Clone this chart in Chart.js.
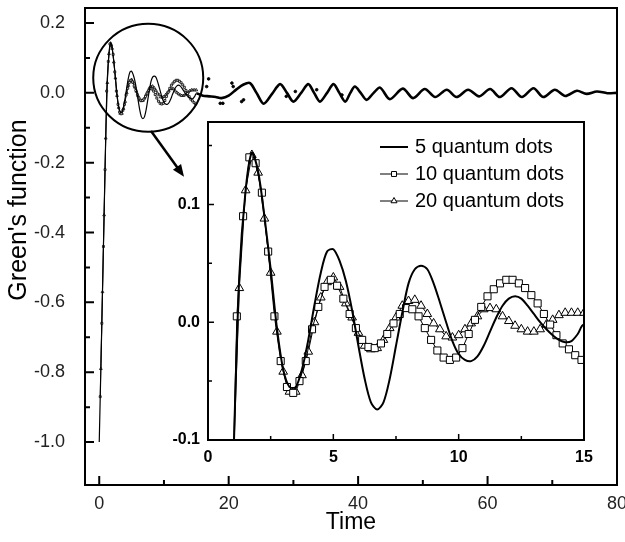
<!DOCTYPE html>
<html>
<head>
<meta charset="utf-8">
<script src="https://cdn.jsdelivr.net/npm/chart.js@4.4.0/dist/chart.umd.min.js"></script>
<style>
body { margin: 0; background: #fff; }
#wrap { position: relative; width: 625px; height: 542px; }
#main { position: absolute; left: 0; top: 0; }
#inset { position: absolute; left: 150px; top: 110px; }
</style>
</head>
<body>
<div id="wrap">
<canvas id="main" width="625" height="542"></canvas>
<canvas id="inset" width="470" height="365"></canvas>
</div>
<script>
// 5 quantum dots (solid line), whole run
const qd5T = [0, 0.25, 0.5, 0.75, 1.0, 1.25, 1.5, 1.75, 2.0, 2.25, 2.5, 2.75, 3.0, 3.25, 3.5, 3.75,
    4.0, 4.25, 4.5, 4.75, 5.0, 5.25, 5.5, 5.75, 6.0, 6.25, 6.5, 6.75, 7.0, 7.25, 7.5, 7.75,
    8.0, 8.25, 8.5, 8.75, 9.0, 9.25, 9.5, 9.75, 10.0, 10.25, 10.5, 10.75, 11.0, 11.25, 11.5, 11.75,
    12.0, 12.25, 12.5, 12.75, 13.0, 13.25, 13.5, 13.75, 14.0, 14.25, 14.5, 14.75, 15.0,
    16.0, 17.0, 18.0, 18.9, 20.0, 21.2, 22.3, 23.3, 24.3, 25.4, 26.7, 27.95, 29.0, 30.0, 31.2,
    32.3, 33.2, 34.1, 35.2, 36.2, 37.1, 38.0, 38.8, 39.5, 40.4, 41.3, 42.4, 43.4, 44.9, 46.9,
    48.5, 50.3, 51.9, 53.7, 55.2, 57.0, 58.7, 60.4, 61.9, 63.7, 65.3, 67.1, 68.6, 70.4, 72.0,
    73.8, 75.3, 76.9, 78.5, 80.0];
const qd5G = [-1.0, -0.79, -0.57, -0.35, -0.13, 0.04, 0.112, 0.144, 0.128, 0.09, 0.045, -0.005, -0.04, -0.055, -0.055, -0.04,
    -0.015, 0.015, 0.042, 0.06, 0.062, 0.052, 0.035, 0.01, -0.02, -0.048, -0.068, -0.074, -0.068, -0.048, -0.02, 0.008,
    0.033, 0.045, 0.048, 0.045, 0.033, 0.017, 0.0, -0.016, -0.027, -0.032, -0.033, -0.029, -0.02, -0.008, 0.004, 0.014,
    0.02, 0.022, 0.02, 0.014, 0.007, 0.0, -0.006, -0.011, -0.015, -0.017, -0.016, -0.01, -0.002,
    -0.008, -0.01, -0.012, -0.015, -0.008, 0.01, 0.024, 0.028, 0.0, -0.031, -0.003, 0.025, 0.0, -0.025, 0.0,
    0.025, 0.0, -0.025, 0.0, 0.025, 0.0, -0.025, 0.0, 0.018, 0.0, -0.02, 0.0, 0.015, -0.018, 0.012,
    -0.015, 0.011, -0.012, 0.009, -0.012, 0.009, -0.01, 0.011, -0.012, 0.013, -0.012, 0.013, -0.012, 0.009, -0.009,
    0.006, -0.003, 0.004, -0.001, 0.0];

// 10 quantum dots (squares)
const qd10T = [0.15, 0.4, 0.65, 0.9, 1.15, 1.4, 1.65, 1.9, 2.15, 2.4, 2.65, 2.9, 3.15, 3.4, 3.65, 3.9,
    4.15, 4.4, 4.65, 4.9, 5.15, 5.4, 5.65, 5.9, 6.15, 6.4, 6.65, 6.9, 7.15, 7.4, 7.65, 7.9,
    8.15, 8.4, 8.65, 8.9, 9.15, 9.4, 9.65, 9.9, 10.15, 10.4, 10.65, 10.9, 11.15, 11.4, 11.65, 11.9,
    12.15, 12.4, 12.65, 12.9, 13.15, 13.4, 13.65, 13.9, 14.15, 14.4, 14.65, 14.9];
const qd10G = [-0.87, -0.66, -0.44, -0.22, 0.005, 0.09, 0.14, 0.135, 0.11, 0.06, 0.005, -0.033, -0.055, -0.06, -0.05, -0.033,
    -0.006, 0.013, 0.03, 0.036, 0.031, 0.02, 0.007, -0.005, -0.015, -0.021, -0.022, -0.018, -0.01, -0.001, 0.007, 0.012,
    0.011, 0.005, -0.005, -0.015, -0.024, -0.03, -0.032, -0.03, -0.022, -0.01, 0.002, 0.013, 0.022, 0.028, 0.033, 0.036,
    0.036, 0.033, 0.029, 0.023, 0.016, 0.007, -0.002, -0.011, -0.018, -0.023, -0.028, -0.032];

// 20 quantum dots (triangles)
const qd20T = [0.25, 0.5, 0.75, 1.0, 1.25, 1.5, 1.75, 2.0, 2.25, 2.5, 2.75, 3.0, 3.25, 3.5, 3.75,
    4.0, 4.25, 4.5, 4.75, 5.0, 5.25, 5.5, 5.75, 6.0, 6.25, 6.5, 6.75, 7.0, 7.25, 7.5, 7.75,
    8.0, 8.25, 8.5, 8.75, 9.0, 9.25, 9.5, 9.75, 10.0, 10.25, 10.5, 10.75, 11.0, 11.25, 11.5, 11.75,
    12.0, 12.25, 12.5, 12.75, 13.0, 13.25, 13.5, 13.75, 14.0, 14.25, 14.5, 14.75, 15.0];
const qd20G = [-0.79, -0.57, -0.35, -0.13, 0.029, 0.112, 0.142, 0.127, 0.088, 0.042, -0.008, -0.042, -0.059, -0.059, -0.045,
    -0.025, 0.0, 0.021, 0.034, 0.038, 0.03, 0.016, 0.004, -0.009, -0.02, -0.023, -0.022, -0.015, -0.005, 0.004, 0.014,
    0.018, 0.019, 0.014, 0.007, -0.001, -0.006, -0.012, -0.013, -0.011, -0.006, -0.001, 0.005, 0.011, 0.012, 0.011, 0.005,
    0.001, -0.003, -0.006, -0.008, -0.008, -0.006, -0.002, 0.002, 0.006, 0.008, 0.008, 0.008, 0.008];

// loose dots of the bigger systems seen after t=15 on the main plot
const strayT = [16.6, 16.9, 18.7, 19.1, 20.5, 20.7, 22.0, 22.3, 28.9, 30.3, 33.6, 37.5];
const strayG = [0.018, 0.04, -0.03, -0.03, 0.028, 0.018, -0.025, -0.02, -0.01, 0.004, 0.009, -0.006];

const mainXTicks = [0, 20, 40, 60, 80];
const mainXMinor = [10, 30, 50, 70];
const mainYTicks = [-1.0, -0.8, -0.6, -0.4, -0.2, 0.0, 0.2];
const mainYMinor = [-0.9, -0.7, -0.5, -0.3, -0.1, 0.1];
const insetXTicks = [0, 5, 10, 15];
const insetXMinor = [2.5, 7.5, 12.5];
const insetYTicks = [-0.1, 0.0, 0.1];
const insetYMinor = [-0.05, 0.05, 0.15];

function pts(t, g) {
    return t.map((v, i) => ({x: v, y: g[i]}));
}

const tickFont = {family: 'Liberation Sans, Arial, sans-serif', size: 18};
const insetFont = {family: 'Liberation Sans Narrow, Liberation Sans, Arial, sans-serif', size: 16, weight: 'bold'};

// frame + inward ticks, like the origin-style plot
function frame(o) {
    return {
        id: 'frame',
        beforeDraw(chart) {
            if (!o.white) return;
            const a = chart.chartArea, ctx = chart.ctx;
            ctx.save();
            ctx.fillStyle = '#fff';
            ctx.fillRect(a.left, a.top, a.right - a.left, a.bottom - a.top);
            ctx.restore();
        },
        afterDraw(chart) {
            const ctx = chart.ctx, a = chart.chartArea, x = chart.scales.x, y = chart.scales.y;
            ctx.save();
            ctx.strokeStyle = '#000';
            ctx.lineWidth = o.lw;
            ctx.strokeRect(a.left, a.top, a.right - a.left, a.bottom - a.top);
            ctx.lineWidth = o.tw;
            ctx.beginPath();
            o.xMajor.forEach(v => { const p = x.getPixelForValue(v); ctx.moveTo(p, a.bottom); ctx.lineTo(p, a.bottom - o.major); });
            o.xMinor.forEach(v => { const p = x.getPixelForValue(v); ctx.moveTo(p, a.bottom); ctx.lineTo(p, a.bottom - o.minor); });
            o.yMajor.forEach(v => { const p = y.getPixelForValue(v); ctx.moveTo(a.left, p); ctx.lineTo(a.left + o.major, p); });
            o.yMinor.forEach(v => { const p = y.getPixelForValue(v); ctx.moveTo(a.left, p); ctx.lineTo(a.left + o.minor, p); });
            ctx.stroke();
            ctx.restore();
        }
    };
}

const mainExtras = {
    id: 'mainExtras',
    afterDraw(chart) {
        const ctx = chart.ctx, x = chart.scales.x, y = chart.scales.y;
        ctx.save();
        // zoom circle
        ctx.strokeStyle = '#000';
        ctx.lineWidth = 2;
        ctx.beginPath();
        ctx.ellipse(x.getPixelForValue(7.57), y.getPixelForValue(0.043), 55, 54, 0, 0, Math.PI * 2);
        ctx.stroke();
        // arrow to the inset
        const x0 = x.getPixelForValue(8.0), y0 = y.getPixelForValue(-0.109);
        const x1 = x.getPixelForValue(13.1), y1 = y.getPixelForValue(-0.24);
        const ang = Math.atan2(y1 - y0, x1 - x0);
        ctx.lineWidth = 2.5;
        ctx.beginPath();
        ctx.moveTo(x0, y0);
        ctx.lineTo(x1 - 8 * Math.cos(ang), y1 - 8 * Math.sin(ang));
        ctx.stroke();
        ctx.fillStyle = '#000';
        ctx.beginPath();
        ctx.moveTo(x1, y1);
        ctx.lineTo(x1 - 12 * Math.cos(ang) + 5 * Math.sin(ang), y1 - 12 * Math.sin(ang) - 5 * Math.cos(ang));
        ctx.lineTo(x1 - 12 * Math.cos(ang) - 5 * Math.sin(ang), y1 - 12 * Math.sin(ang) + 5 * Math.cos(ang));
        ctx.closePath();
        ctx.fill();
        // axis titles
        ctx.fillStyle = '#000';
        ctx.textAlign = 'center';
        ctx.textBaseline = 'middle';
        ctx.font = '23px Liberation Sans, Arial, sans-serif';
        ctx.fillText('Time', (chart.chartArea.left + chart.chartArea.right) / 2, 523);
        ctx.font = '25px Liberation Sans, Arial, sans-serif';
        ctx.translate(19, 210);
        ctx.rotate(-Math.PI / 2);
        ctx.fillText("Green's function", 0, 0);
        ctx.restore();
    }
};

const insetLegend = {
    id: 'insetLegend',
    afterDraw(chart) {
        const ctx = chart.ctx;
        const rows = [37, 64, 91];
        ctx.save();
        chart.data.datasets.forEach((ds, i) => {
            const yy = rows[i];
            ctx.strokeStyle = '#000';
            ctx.lineWidth = i === 0 ? 2 : 1;
            ctx.beginPath();
            ctx.moveTo(230, yy);
            ctx.lineTo(258, yy);
            ctx.stroke();
            if (ds.pointStyle) {
                ctx.fillStyle = '#fff';
                ctx.lineWidth = 1;
                Chart.helpers.drawPoint(ctx, {pointStyle: ds.pointStyle, radius: 3.5, rotation: 0, borderWidth: 1}, 244, yy);
            }
            ctx.fillStyle = '#000';
            ctx.font = '20px Liberation Sans, Arial, sans-serif';
            ctx.textAlign = 'left';
            ctx.textBaseline = 'middle';
            ctx.fillText(ds.label, 265, yy);
        });
        ctx.restore();
    }
};

new Chart(document.getElementById('main'), {
    type: 'scatter',
    data: {
        datasets: [
            {label: '5 quantum dots', data: pts(qd5T, qd5G), showLine: true, borderColor: '#000', borderWidth: 1.2,
                pointRadius: 0, tension: 0.3,
                segment: {borderWidth: c => c.p0.parsed.x >= 15 ? 2.6 : 1.2}},
            {label: '10 quantum dots', data: pts(qd10T, qd10G), showLine: true, borderColor: '#000', borderWidth: 0.7,
                pointStyle: 'rect', pointRadius: 1.4, backgroundColor: '#fff', pointBorderWidth: 0.8},
            {label: '20 quantum dots', data: pts(qd20T, qd20G), showLine: true, borderColor: '#000', borderWidth: 0.7,
                pointStyle: 'triangle', pointRadius: 1.6, backgroundColor: '#fff', pointBorderWidth: 0.8},
            {label: 'dots', data: pts(strayT, strayG), pointRadius: 1.3, backgroundColor: '#000', borderColor: '#000'}
        ]
    },
    options: {
        responsive: false,
        animation: false,
        devicePixelRatio: 1,
        layout: {padding: {top: 8, right: 8, left: 0, bottom: 0}},
        plugins: {legend: {display: false}, tooltip: {enabled: false}},
        scales: {
            x: {
                type: 'linear', min: -2.2, max: 80,
                grid: {display: false, drawTicks: false}, border: {display: false},
                ticks: {font: tickFont, color: '#222', padding: 8, maxRotation: 0, callback: v => String(v)},
                afterBuildTicks: s => { s.ticks = mainXTicks.map(v => ({value: v})); },
                afterFit: s => { s.height = 57; s.paddingLeft = 0; s.paddingRight = 0; }
            },
            y: {
                type: 'linear', min: -1.123, max: 0.243,
                grid: {display: false, drawTicks: false}, border: {display: false},
                ticks: {font: tickFont, color: '#222', padding: 20, callback: v => v.toFixed(1)},
                afterBuildTicks: s => { s.ticks = mainYTicks.map(v => ({value: v})); },
                afterFit: s => { s.width = 85; s.paddingTop = 0; s.paddingBottom = 0; }
            }
        }
    },
    plugins: [frame({lw: 2, tw: 2, major: 9, minor: 5, xMajor: mainXTicks, xMinor: mainXMinor, yMajor: mainYTicks, yMinor: mainYMinor}), mainExtras]
});

new Chart(document.getElementById('inset'), {
    type: 'scatter',
    data: {
        datasets: [
            {label: '5 quantum dots', data: pts(qd5T, qd5G), showLine: true, borderColor: '#000', borderWidth: 2,
                pointRadius: 0, tension: 0.3},
            {label: '10 quantum dots', data: pts(qd10T, qd10G), showLine: true, borderColor: '#000', borderWidth: 1,
                pointStyle: 'rect', pointRadius: 5, backgroundColor: '#fff', pointBorderWidth: 1},
            {label: '20 quantum dots', data: pts(qd20T, qd20G), showLine: true, borderColor: '#000', borderWidth: 1,
                pointStyle: 'triangle', pointRadius: 5, backgroundColor: '#fff', pointBorderWidth: 1}
        ]
    },
    options: {
        responsive: false,
        animation: false,
        devicePixelRatio: 1,
        layout: {padding: {top: 12, right: 36, left: 0, bottom: 0}},
        plugins: {legend: {display: false}, tooltip: {enabled: false}},
        scales: {
            x: {
                type: 'linear', min: 0, max: 15,
                grid: {display: false, drawTicks: false}, border: {display: false},
                ticks: {font: insetFont, color: '#000', padding: 8, maxRotation: 0, callback: v => String(v)},
                afterBuildTicks: s => { s.ticks = insetXTicks.map(v => ({value: v})); },
                afterFit: s => { s.height = 35; s.paddingLeft = 0; s.paddingRight = 0; }
            },
            y: {
                type: 'linear', min: -0.1, max: 0.17,
                grid: {display: false, drawTicks: false}, border: {display: false},
                ticks: {font: insetFont, color: '#000', padding: 8, callback: v => v.toFixed(1)},
                afterBuildTicks: s => { s.ticks = insetYTicks.map(v => ({value: v})); },
                afterFit: s => { s.width = 58; s.paddingTop = 0; s.paddingBottom = 0; }
            }
        }
    },
    plugins: [frame({white: true, lw: 2, tw: 1.5, major: 6, minor: 4, xMajor: insetXTicks, xMinor: insetXMinor, yMajor: insetYTicks, yMinor: insetYMinor}), insetLegend]
});
</script>
</body>
</html>
